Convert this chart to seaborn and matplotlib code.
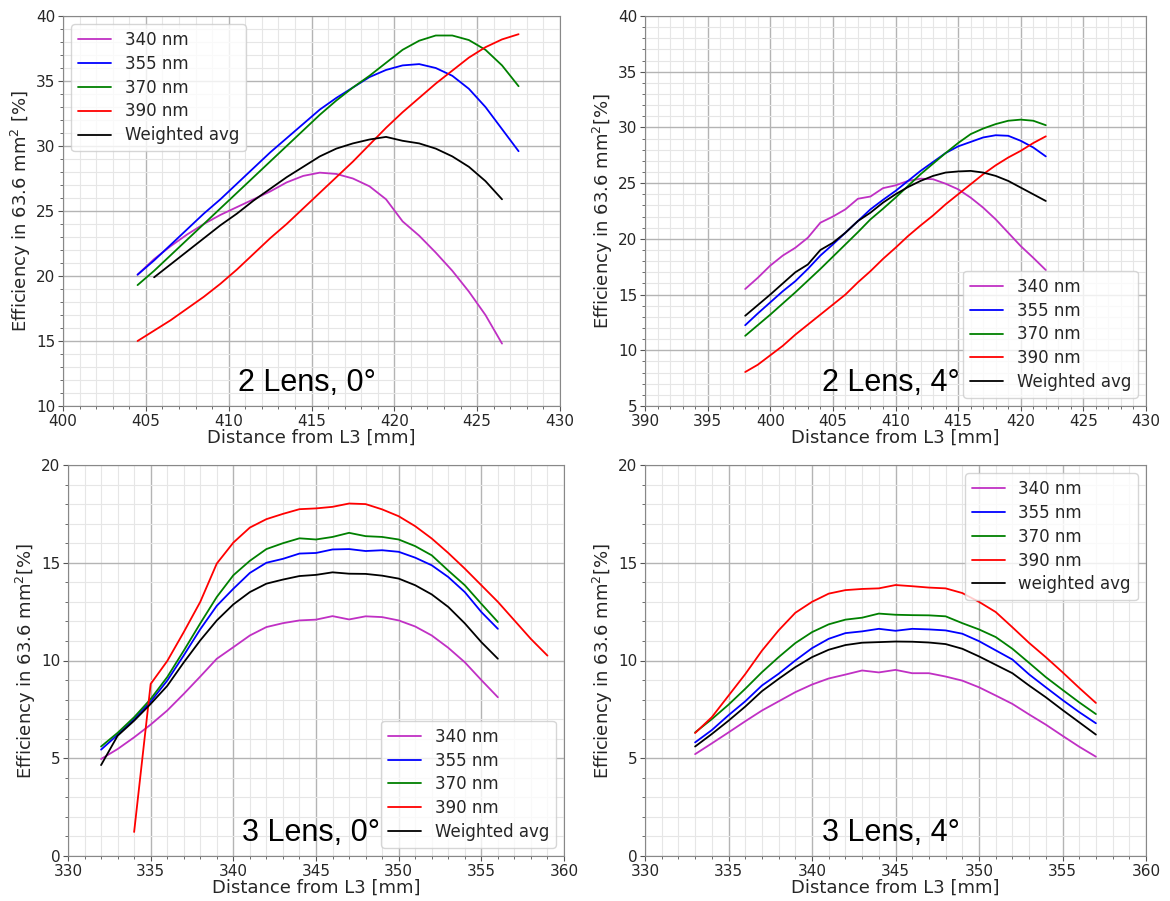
import numpy as np
import pandas as pd
import seaborn as sns
import matplotlib
matplotlib.use("Agg")
import matplotlib.pyplot as plt
from matplotlib.ticker import MultipleLocator

# ---- data ----
labels = ["340 nm", "355 nm", "370 nm", "390 nm", "Weighted avg"]
colors = ["#c030c4", "#0000ff", "#008000", "#ff0000", "#000000"]

# 2 Lens, 0 deg
x2_0_short = np.arange(404.5, 427.0, 1.0)   # 404.5 .. 426.5
x2_0_long = np.arange(404.5, 428.0, 1.0)    # 404.5 .. 427.5
x2_0_avg = np.arange(405.5, 427.0, 1.0)     # 405.5 .. 426.5
l2_0_340 = [20.1, 21.3, 22.3, 23.2, 24.0, 24.7, 25.3, 25.9, 26.5, 27.2, 27.7, 27.95,
            27.85, 27.5, 26.9, 25.9, 24.2, 23.1, 21.8, 20.4, 18.8, 17.0, 14.8]
l2_0_355 = [20.1, 21.2, 22.4, 23.6, 24.8, 25.9, 27.1, 28.3, 29.5, 30.6, 31.7, 32.8,
            33.7, 34.5, 35.3, 35.85, 36.2, 36.3, 36.0, 35.4, 34.4, 33.0, 31.3, 29.6]
l2_0_370 = [19.3, 20.4, 21.6, 22.8, 24.0, 25.2, 26.4, 27.6, 28.8, 30.0, 31.2, 32.4,
            33.5, 34.5, 35.4, 36.4, 37.4, 38.1, 38.5, 38.5, 38.15, 37.4, 36.2, 34.6]
l2_0_390 = [15.0, 15.8, 16.6, 17.5, 18.4, 19.4, 20.5, 21.7, 22.9, 24.0, 25.2, 26.4,
            27.6, 28.8, 30.1, 31.4, 32.6, 33.7, 34.8, 35.8, 36.8, 37.6, 38.2, 38.6]
l2_0_avg = [19.9, 20.9, 21.9, 22.9, 23.9, 24.8, 25.8, 26.7, 27.6, 28.4, 29.2,
            29.8, 30.2, 30.5, 30.7, 30.4, 30.2, 29.8, 29.2, 28.4, 27.3, 25.9]

# 2 Lens, 4 deg
x2_4 = np.arange(398, 423)
l2_4_340 = [15.5, 16.5, 17.6, 18.5, 19.2, 20.1, 21.45, 22.0, 22.65, 23.6, 23.8, 24.55, 24.8,
            25.2, 25.4, 25.35, 24.95, 24.45, 23.7, 22.8, 21.75, 20.55, 19.35, 18.3, 17.2]
l2_4_355 = [12.25, 13.3, 14.3, 15.3, 16.2, 17.3, 18.5, 19.5, 20.55, 21.6, 22.65, 23.5, 24.3,
            25.2, 26.1, 26.9, 27.7, 28.3, 28.7, 29.1, 29.3, 29.25, 28.8, 28.2, 27.4]
l2_4_370 = [11.3, 12.25, 13.2, 14.2, 15.2, 16.25, 17.3, 18.4, 19.5, 20.6, 21.75, 22.7, 23.7,
            24.75, 25.8, 26.75, 27.7, 28.6, 29.4, 29.9, 30.3, 30.6, 30.7, 30.6, 30.2]
l2_4_390 = [8.05, 8.7, 9.55, 10.4, 11.4, 12.3, 13.2, 14.1, 15.0, 16.1, 17.1, 18.2, 19.2,
            20.25, 21.2, 22.1, 23.1, 24.0, 24.9, 25.8, 26.6, 27.3, 27.9, 28.6, 29.2]
l2_4_avg = [13.1, 14.05, 15.0, 16.0, 17.0, 17.7, 19.0, 19.65, 20.55, 21.6, 22.35, 23.25, 24.0,
            24.65, 25.2, 25.65, 25.95, 26.05, 26.1, 25.95, 25.65, 25.2, 24.6, 24.0, 23.4]

# 3 Lens, 0 deg
x3_0 = np.arange(332, 357)
x3_0_red = np.arange(334, 360)
l3_0_340 = [4.96, 5.47, 6.07, 6.72, 7.44, 8.29, 9.18, 10.09, 10.68, 11.28, 11.71, 11.91, 12.05,
            12.09, 12.27, 12.1, 12.26, 12.22, 12.05, 11.74, 11.28, 10.65, 9.91, 9.0, 8.12]
l3_0_355 = [5.44, 6.2, 7.0, 7.9, 8.97, 10.26, 11.6, 12.8, 13.67, 14.48, 15.0, 15.2, 15.47,
            15.5, 15.68, 15.7, 15.6, 15.64, 15.56, 15.26, 14.87, 14.27, 13.5, 12.48, 11.62]
l3_0_370 = [5.6, 6.3, 7.1, 8.03, 9.15, 10.5, 11.9, 13.25, 14.36, 15.1, 15.7, 16.0, 16.25,
            16.19, 16.32, 16.53, 16.36, 16.32, 16.19, 15.85, 15.38, 14.6, 13.85, 12.9, 11.97]
l3_0_390 = [1.23, 8.8, 9.97, 11.45, 13.0, 14.96, 16.03, 16.8, 17.23, 17.5, 17.74, 17.78, 17.86,
            18.03, 18.0, 17.73, 17.38, 16.87, 16.24, 15.5, 14.7, 13.85, 13.0, 12.05, 11.1, 10.25]
l3_0_avg = [4.65, 6.15, 6.92, 7.78, 8.7, 9.9, 11.03, 12.05, 12.87, 13.5, 13.93, 14.14, 14.32,
            14.38, 14.51, 14.44, 14.43, 14.34, 14.19, 13.85, 13.38, 12.74, 11.9, 10.94, 10.09]

# 3 Lens, 4 deg
x3_4 = np.arange(333, 358)
l3_4_340 = [5.21, 5.76, 6.32, 6.89, 7.44, 7.91, 8.38, 8.77, 9.08, 9.28, 9.49, 9.39, 9.52,
            9.35, 9.35, 9.18, 8.97, 8.63, 8.21, 7.78, 7.24, 6.72, 6.15, 5.59, 5.08]
l3_4_355 = [5.81, 6.44, 7.2, 7.91, 8.72, 9.32, 10.0, 10.63, 11.11, 11.4, 11.49, 11.62, 11.52,
            11.62, 11.59, 11.54, 11.37, 10.99, 10.52, 10.05, 9.29, 8.63, 7.98, 7.36, 6.79]
l3_4_370 = [6.32, 7.0, 7.74, 8.55, 9.4, 10.17, 10.89, 11.45, 11.85, 12.09, 12.19, 12.4, 12.34,
            12.32, 12.31, 12.26, 11.91, 11.59, 11.2, 10.6, 9.88, 9.15, 8.5, 7.86, 7.26]
l3_4_390 = [6.29, 7.1, 8.2, 9.3, 10.5, 11.54, 12.44, 13.0, 13.42, 13.6, 13.66, 13.69, 13.86,
            13.8, 13.73, 13.69, 13.45, 13.0, 12.48, 11.7, 10.9, 10.17, 9.4, 8.6, 7.83]
l3_4_avg = [5.6, 6.24, 6.92, 7.64, 8.43, 9.06, 9.66, 10.17, 10.55, 10.79, 10.91, 10.94, 10.97,
            10.96, 10.92, 10.84, 10.6, 10.21, 9.78, 9.35, 8.72, 8.12, 7.47, 6.84, 6.21]

panels = [
    dict(title="2 Lens, 0°", xs=[x2_0_short, x2_0_long, x2_0_long, x2_0_long, x2_0_avg],
         ys=[l2_0_340, l2_0_355, l2_0_370, l2_0_390, l2_0_avg],
         xlim=(400, 430), ylim=(10, 40), loc="upper left",
         ylabel="Efficiency in 63.6 mm$^2$ [%]", avg="Weighted avg",
         rect=[63 / 1170, 1 - 406 / 901, 497 / 1170, 390 / 901]),
    dict(title="2 Lens, 4°", xs=[x2_4] * 5,
         ys=[l2_4_340, l2_4_355, l2_4_370, l2_4_390, l2_4_avg],
         xlim=(390, 430), ylim=(5, 40), loc="lower right",
         ylabel="Efficiency in 63.6 mm$^2$[%]", avg="Weighted avg",
         rect=[645 / 1170, 1 - 406 / 901, 501 / 1170, 390 / 901]),
    dict(title="3 Lens, 0°", xs=[x3_0, x3_0, x3_0, x3_0_red, x3_0],
         ys=[l3_0_340, l3_0_355, l3_0_370, l3_0_390, l3_0_avg],
         xlim=(330, 360), ylim=(0, 20), loc="lower right",
         ylabel="Efficiency in 63.6 mm$^2$[%]", avg="Weighted avg",
         rect=[68 / 1170, 1 - 856 / 901, 496 / 1170, 391 / 901]),
    dict(title="3 Lens, 4°", xs=[x3_4] * 5,
         ys=[l3_4_340, l3_4_355, l3_4_370, l3_4_390, l3_4_avg],
         xlim=(330, 360), ylim=(0, 20), loc="upper right",
         ylabel="Efficiency in 63.6 mm$^2$[%]", avg="weighted avg",
         rect=[645 / 1170, 1 - 856 / 901, 501 / 1170, 391 / 901]),
]

sns.set_style("white")
plt.rcParams["font.family"] = ["DejaVu Sans"]

fig = plt.figure(figsize=(11.7, 9.01), dpi=100)

for p in panels:
    ax = fig.add_axes(p["rect"])
    names = labels[:4] + [p["avg"]]
    for x, y, name, c in zip(p["xs"], p["ys"], names, colors):
        df = pd.DataFrame({"x": x, "y": y})
        sns.lineplot(data=df, x="x", y="y", ax=ax, color=c, label=name, lw=1.3)
    ax.set_xlim(*p["xlim"])
    ax.set_ylim(*p["ylim"])
    ax.xaxis.set_major_locator(MultipleLocator(5))
    ax.xaxis.set_minor_locator(MultipleLocator(1))
    ax.yaxis.set_major_locator(MultipleLocator(5))
    ax.yaxis.set_minor_locator(MultipleLocator(1))
    ax.grid(which="major", color="#b4b4b4", lw=1.0)
    ax.grid(which="minor", color="#e6e6e6", lw=0.8)
    ax.tick_params(which="major", direction="out", length=3.5, labelsize=11, pad=2,
                   left=True, bottom=True, color="#555555")
    ax.tick_params(which="minor", direction="out", length=2, left=True, bottom=True,
                   color="#555555")
    for s in ax.spines.values():
        s.set_color("#888888")
    ax.set_xlabel("Distance from L3 [mm]", fontsize=13, labelpad=0)
    ax.set_ylabel(p["ylabel"], fontsize=13, labelpad=2)
    ax.legend(loc=p["loc"], fontsize=12, handlelength=2.0, labelspacing=0.35,
              framealpha=0.8)
    ax.text(0.49, 0.02, p["title"], transform=ax.transAxes, ha="center", va="bottom",
            fontsize=22, color="black", family=["Liberation Sans", "DejaVu Sans"])

fig.savefig("out.png", dpi=100)
